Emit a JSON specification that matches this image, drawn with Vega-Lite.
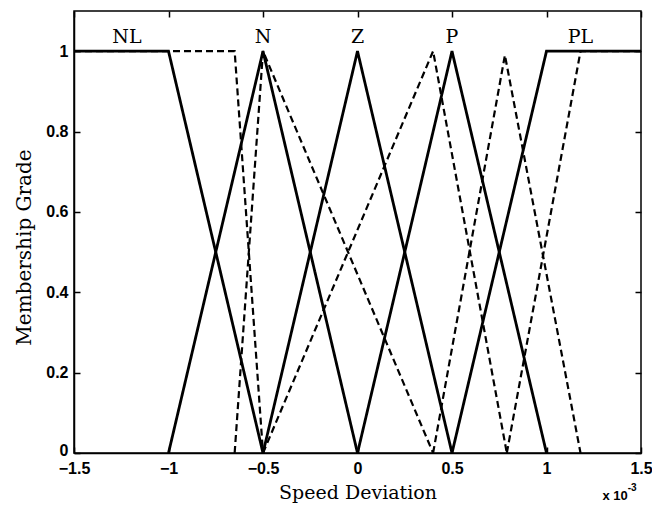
{
  "$schema": "https://vega.github.io/schema/vega-lite/v6.json",
  "width": 567,
  "height": 442,
  "autosize": "none",
  "padding": {"left": 74, "top": 11, "right": 11, "bottom": 53},
  "background": "white",
  "config": {
    "view": {"stroke": "black", "strokeWidth": 1.5},
    "axis": {
      "grid": false,
      "labelFont": "Liberation Sans",
      "labelFontWeight": "bold",
      "labelFontSize": 16,
      "labelColor": "black",
      "tickColor": "black",
      "tickWidth": 1.5,
      "tickSize": -6,
      "domainColor": "black",
      "domainWidth": 1.5,
      "titleFont": "DejaVu Serif",
      "titleFontSize": 19,
      "titleFontWeight": "normal",
      "titleColor": "black"
    }
  },
  "datasets": {
    "curves": [
      {"s": "NL", "t": "solid", "i": 0, "x": -1.5, "y": 1},
      {"s": "NL", "t": "solid", "i": 1, "x": -1, "y": 1},
      {"s": "NL", "t": "solid", "i": 2, "x": -0.5, "y": 0},
      {"s": "N", "t": "solid", "i": 0, "x": -1, "y": 0},
      {"s": "N", "t": "solid", "i": 1, "x": -0.5, "y": 1},
      {"s": "N", "t": "solid", "i": 2, "x": 0, "y": 0},
      {"s": "Z", "t": "solid", "i": 0, "x": -0.5, "y": 0},
      {"s": "Z", "t": "solid", "i": 1, "x": 0, "y": 1},
      {"s": "Z", "t": "solid", "i": 2, "x": 0.5, "y": 0},
      {"s": "P", "t": "solid", "i": 0, "x": 0, "y": 0},
      {"s": "P", "t": "solid", "i": 1, "x": 0.5, "y": 1},
      {"s": "P", "t": "solid", "i": 2, "x": 1, "y": 0},
      {"s": "PL", "t": "solid", "i": 0, "x": 0.5, "y": 0},
      {"s": "PL", "t": "solid", "i": 1, "x": 1, "y": 1},
      {"s": "PL", "t": "solid", "i": 2, "x": 1.5, "y": 1},
      {"s": "NLd", "t": "dashed", "i": 0, "x": -1.5, "y": 1},
      {"s": "NLd", "t": "dashed", "i": 1, "x": -0.65, "y": 1},
      {"s": "NLd", "t": "dashed", "i": 2, "x": -0.5, "y": 0},
      {"s": "Nd", "t": "dashed", "i": 0, "x": -0.65, "y": 0},
      {"s": "Nd", "t": "dashed", "i": 1, "x": -0.5, "y": 1},
      {"s": "Nd", "t": "dashed", "i": 2, "x": 0.4, "y": 0},
      {"s": "Zd", "t": "dashed", "i": 0, "x": -0.5, "y": 0},
      {"s": "Zd", "t": "dashed", "i": 1, "x": 0.4, "y": 1},
      {"s": "Zd", "t": "dashed", "i": 2, "x": 0.79, "y": 0},
      {"s": "Pd", "t": "dashed", "i": 0, "x": 0.4, "y": 0},
      {"s": "Pd", "t": "dashed", "i": 1, "x": 0.78, "y": 0.99},
      {"s": "Pd", "t": "dashed", "i": 2, "x": 1.18, "y": 0},
      {"s": "PLd", "t": "dashed", "i": 0, "x": 0.79, "y": 0},
      {"s": "PLd", "t": "dashed", "i": 1, "x": 1.18, "y": 1},
      {"s": "PLd", "t": "dashed", "i": 2, "x": 1.5, "y": 1}
    ],
    "labels": [
      {"name": "NL", "x": -1.22, "y": 1.035},
      {"name": "N", "x": -0.5, "y": 1.035},
      {"name": "Z", "x": 0, "y": 1.035},
      {"name": "P", "x": 0.5, "y": 1.035},
      {"name": "PL", "x": 1.18, "y": 1.035}
    ],
    "note": [
      {"txt": "x 10", "x": 1.43, "y": -0.107}
    ],
    "sup": [
      {"txt": "-3", "x": 1.43, "y": -0.087}
    ]
  },
  "layer": [
    {
      "data": {"name": "curves"},
      "mark": {"type": "line", "color": "black", "clip": true},
      "encoding": {
        "x": {
          "field": "x", "type": "quantitative",
          "scale": {"domain": [-1.5, 1.5], "nice": false, "zero": false},
          "axis": {"values": [-1.5, -1, -0.5, 0, 0.5, 1, 1.5], "format": "~g", "labelPadding": 13, "title": "Speed Deviation", "titlePadding": 7, "labelFlush": false}
        },
        "y": {
          "field": "y", "type": "quantitative",
          "scale": {"domain": [0, 1.1], "nice": false},
          "axis": {"values": [0, 0.2, 0.4, 0.6, 0.8, 1], "format": "~g", "labelPadding": 12, "labelOffset": {"condition": {"test": "datum.value === 0", "value": -3}, "value": 0}, "title": "Membership Grade", "titleFontSize": 20, "titlePadding": 11, "titleY": 236, "labelFlush": false}
        },
        "detail": {"field": "s"},
        "order": {"field": "i"},
        "strokeDash": {"field": "t", "type": "nominal", "scale": {"domain": ["solid", "dashed"], "range": [[1, 0], [7, 4]]}, "legend": null},
        "strokeWidth": {"field": "t", "type": "nominal", "scale": {"domain": ["solid", "dashed"], "range": [2.8, 2.2]}, "legend": null}
      }
    },
    {
      "data": {"name": "curves"},
      "mark": {"type": "point", "opacity": 0},
      "encoding": {
        "x": {"field": "x", "type": "quantitative", "axis": {"orient": "top", "values": [-1.5, -1, -0.5, 0, 0.5, 1, 1.5], "labels": false, "domain": false, "title": null}},
        "y": {"field": "y", "type": "quantitative", "axis": {"orient": "right", "values": [0, 0.2, 0.4, 0.6, 0.8, 1], "labels": false, "domain": false, "title": null}}
      }
    },
    {
      "data": {"name": "labels"},
      "mark": {"type": "text", "font": "DejaVu Serif", "fontSize": 19, "color": "black", "baseline": "middle", "align": "center"},
      "encoding": {
        "x": {"field": "x", "type": "quantitative", "axis": null},
        "y": {"field": "y", "type": "quantitative", "axis": null},
        "text": {"field": "name"}
      }
    },
    {
      "data": {"name": "note"},
      "mark": {"type": "text", "font": "Liberation Sans", "fontWeight": "bold", "fontSize": 13, "color": "black", "baseline": "middle", "align": "right"},
      "encoding": {
        "x": {"field": "x", "type": "quantitative", "axis": null},
        "y": {"field": "y", "type": "quantitative", "axis": null},
        "text": {"field": "txt"}
      }
    },
    {
      "data": {"name": "sup"},
      "mark": {"type": "text", "font": "Liberation Sans", "fontWeight": "bold", "fontSize": 10, "color": "black", "baseline": "middle", "align": "left"},
      "encoding": {
        "x": {"field": "x", "type": "quantitative", "axis": null},
        "y": {"field": "y", "type": "quantitative", "axis": null},
        "text": {"field": "txt"}
      }
    }
  ],
  "resolve": {"axis": {"x": "independent", "y": "independent"}}
}
